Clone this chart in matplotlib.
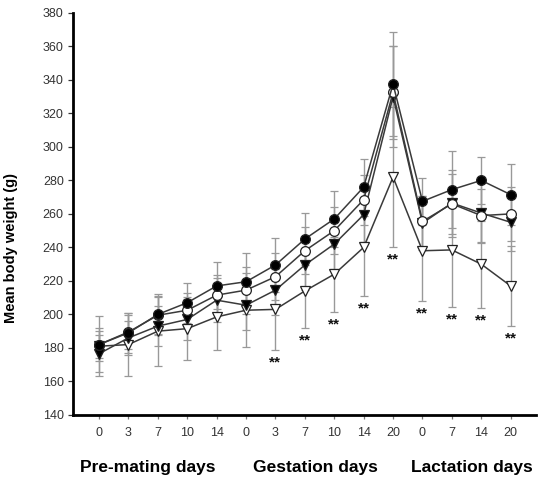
import matplotlib
matplotlib.use('Agg')
import matplotlib.pyplot as plt
import numpy as np

plt.rcParams['font.family'] = ['Liberation Sans', 'DejaVu Sans']

# ---- data -----------------------------------------------------------------
day_labels = ['0', '3', '7', '10', '14',
              '0', '3', '7', '10', '14', '20',
              '0', '7', '14', '20']
groups = ['Pre-mating days', 'Gestation days', 'Lactation days']
group_x = [2.66, 8.37, 13.69]

filled_circle = [182, 189, 200, 207, 217, 219.5, 229.5, 245, 257, 276, 337.5, 267.5, 274.5, 280, 271.5]
open_circle = [182, 189.5, 199.5, 202.5, 211.5, 214.5, 222.5, 238, 250, 268.5, 332.5, 255.5, 266, 259, 260]
filled_tri = [176.5, 186, 193, 197, 208.5, 205.5, 214.5, 229.5, 242, 259.5, 330, 254.5, 266.5, 260.5, 255]
open_tri = [181, 182, 190, 191.5, 198.5, 202.5, 203, 214, 224, 240, 282, 238, 238.5, 230, 217]

fc_sd = [10, 12, 12, 12, 14, 17, 16, 15.5, 16.5, 17, 31, 14, 23, 14, 18]
oc_sd = [8, 10, 11, 10, 12, 14, 14, 14, 14, 15, 28, 15, 18, 16, 16]
ft_sd = [11, 10, 12, 12, 13, 15, 15, 15, 15, 16, 30, 16, 20, 18, 17]
ot_sd = [18, 19, 21, 19, 20, 22, 24, 22, 22.5, 29, 42, 30, 34, 26, 24]

# points marked ** (significant vs control)
sig_idx = [6, 7, 8, 9, 10, 11, 12, 13, 14]

x = np.arange(1, len(day_labels) + 1)

fig = plt.figure(figsize=(5.43, 4.78), dpi=100)
ax = fig.add_axes([0.134, 0.132, 0.853, 0.841])

series = [
    (open_tri, ot_sd, 'v', 'white'),
    (filled_tri, ft_sd, 'v', 'black'),
    (open_circle, oc_sd, 'o', 'white'),
    (filled_circle, fc_sd, 'o', 'black'),
]
for vals, sd, mk, face in series:
    ax.errorbar(x, vals, yerr=sd, fmt='none', ecolor='#999999',
                elinewidth=1, capsize=3.2, capthick=0.9, zorder=2)
for vals, sd, mk, face in series:
    ax.plot(x, vals, '-', color='#3a3a3a', lw=1.1, marker=mk, ms=7,
            mfc=face, mec='#222222', mew=0.9, zorder=3)

ot = np.array(open_tri)
ots = np.array(ot_sd)
for i in sig_idx:
    ax.text(x[i], ot[i] - ots[i] - 7.5, '**', ha='center', va='center',
            fontsize=11, fontweight='bold', color='#111111')

ax.set_xlim(0.105, 15.86)
ax.set_ylim(140, 380)
ax.set_yticks(np.arange(140, 381, 20))
ax.set_xticks(x)
ax.set_xticklabels(day_labels)

for s in ['top', 'right']:
    ax.spines[s].set_visible(False)
for s in ['left', 'bottom']:
    ax.spines[s].set_linewidth(2)
    ax.spines[s].set_color('black')

ax.tick_params(axis='x', length=3, width=0.9, color='#777777', pad=6,
               labelsize=9, labelcolor='#333333')
ax.tick_params(axis='y', length=3.5, width=0.9, color='#333333', pad=3,
               labelsize=9, labelcolor='#333333')

ax.set_ylabel('Mean body weight (g)', fontsize=10.5, fontweight='bold')
ax.yaxis.set_label_coords(-0.119, 0.415)

trans = ax.get_xaxis_transform()
for gx, g in zip(group_x, groups):
    ax.text(gx, -0.132, g, transform=trans, ha='center', va='center',
            fontsize=12.5, fontweight='bold', color='black')

fig.savefig('out.png', dpi=100)
